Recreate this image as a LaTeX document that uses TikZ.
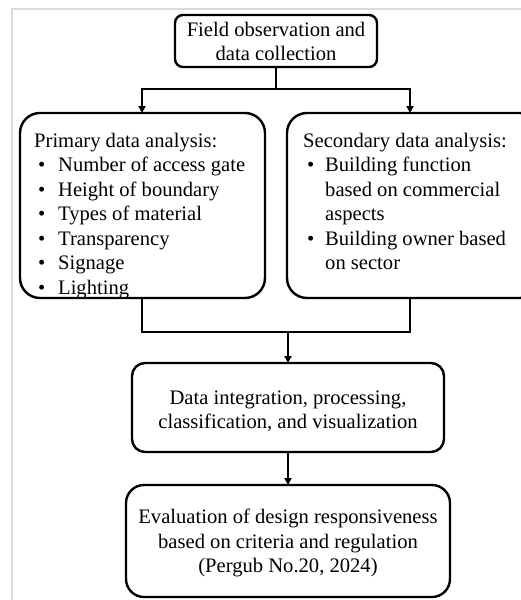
\documentclass[tikz,border=0pt]{standalone}
\usepackage{fontspec}
\setmainfont{Liberation Serif}
\usetikzlibrary{arrows.meta}
\begin{document}
\begin{tikzpicture}[x=1pt,y=-1pt,
  box/.style={draw=black, line width=2.4pt, inner sep=0pt},
  txt/.style={inner sep=0pt, align=center, font=\fontsize{20.6}{24.5}\selectfont},
  ltxt/.style={inner sep=0pt, anchor=north west, align=left, font=\fontsize{20.6}{24.5}\selectfont},
  conn/.style={line width=2.4pt},
  arr/.style={line width=2.4pt, -{Triangle[length=7pt,width=7pt]}},
  frame/.style={draw=black!14, line width=2pt}]
\useasboundingbox (0,0) rectangle (520,600);
\fill[white] (0,0) rectangle (520,600);
% outer frame
\draw[frame] (12,600) -- (12,9) -- (521,9);
% boxes
\draw[box, rounded corners=8pt] (175,15) rectangle (377,67);
\node[txt] (top) at (276,41.5) {Field observation and\\data collection};
\coordinate (topb) at (276,67);
\draw[box, rounded corners=20pt] (20,113) rectangle (265,298);
\coordinate (pt) at (142,113);
\coordinate (pb) at (142,298);
\draw[box, rounded corners=20pt] (287,113) rectangle (540,298);
\coordinate (st) at (410,113);
\coordinate (sb) at (410,298);
\node[ltxt] (prim) at (34,133) {Primary data analysis:\\
\hspace*{4pt}\makebox[20pt][l]{\textbullet}Number of access gate\\
\hspace*{4pt}\makebox[20pt][l]{\textbullet}Height of boundary\\
\hspace*{4pt}\makebox[20pt][l]{\textbullet}Types of material\\
\hspace*{4pt}\makebox[20pt][l]{\textbullet}Transparency\\
\hspace*{4pt}\makebox[20pt][l]{\textbullet}Signage\\
\hspace*{4pt}\makebox[20pt][l]{\textbullet}Lighting};
\node[ltxt] (sec) at (303,133) {Secondary data analysis:\\
\hspace*{4pt}\makebox[18pt][l]{\textbullet}Building function\\
\hspace*{22pt}based on commercial\\
\hspace*{22pt}aspects\\
\hspace*{4pt}\makebox[18pt][l]{\textbullet}Building owner based\\
\hspace*{22pt}on sector};
\draw[box, rounded corners=13pt] (132,363) rectangle (444,452);
\node[txt] (data) at (288,411.5) {Data integration, processing,\\classification, and visualization};
\coordinate (dt) at (288,363);
\coordinate (db) at (288,452);
\draw[box, rounded corners=18pt] (126,485) rectangle (450,597);
\node[txt] (eval) at (288,543) {Evaluation of design responsiveness\\based on criteria and regulation\\(Pergub No.20, 2024)};
\coordinate (et) at (288,485);
% connectors
\coordinate (j1) at (276,89);
\coordinate (j2) at (288,332);
\draw[conn] (topb) -- (j1);
\draw[arr] (j1) -| (pt);
\draw[arr] (j1) -| (st);
\draw[conn] (pb) |- (j2);
\draw[conn] (sb) |- (j2);
\draw[arr] (j2) -- (dt);
\draw[arr] (db) -- (et);
\end{tikzpicture}
\end{document}
